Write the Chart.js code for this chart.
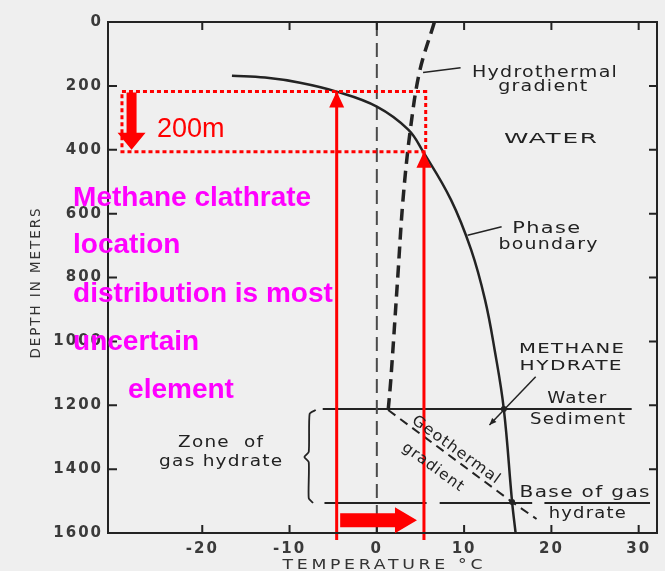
<!DOCTYPE html>
<html>
<head>
<meta charset="utf-8">
<title>Methane hydrate stability</title>
<script src="https://cdn.jsdelivr.net/npm/chart.js@4.4.1/dist/chart.umd.min.js"></script>
<style>
  html, body { margin: 0; padding: 0; background: #efefef; }
  #wrap { width: 665px; height: 571px; }
</style>
</head>
<body>
<div id="wrap"><canvas id="hydrateChart" width="665" height="571"></canvas></div>
<script>
// axis ticks
const tempTicks = [-20, -10, 0, 10, 20, 30];
const depthTicks = [0, 200, 400, 600, 800, 1000, 1200, 1400, 1600];

// curves: temperature (°C) / depth (m)
const phaseTemp  = [-16.6, -12.8, -8.8, -4.6, 0, 3.6, 5.3, 8.5, 10.8, 12.4, 13.5, 14.55, 15.5, 15.9];
const phaseDepth = [168, 174, 190, 218, 265, 337, 406, 557, 713, 870, 1027, 1212, 1503, 1600];
const hydroTemp  = [6.6, 4.9, 3.8, 3.0, 2.4, 1.6, 1.3];
const hydroDepth = [0, 155, 346, 556, 798, 1121, 1215];
const geoTemp  = [1.3, 15.5, 18.3];
const geoDepth = [1215, 1503, 1556];

// horizontal boundaries
const seafloorDepth = 1212;
const seafloorTemp = [-6.2, 29.2];
const baseDepth = 1506;
const baseSegments = [[-6.0, 5.7], [7.2, 17.8], [19.2, 31.3]];

// brace for "Zone of gas hydrate"
const braceTemp  = [-7.0, -7.7, -7.8, -8.3, -7.8, -7.8, -7.3];
const braceDepth = [1215, 1227, 1346, 1362, 1378, 1491, 1506];

// leader lines from the labels
const hydroLeader   = { temp: [5.3, 9.6],   depth: [158, 143] };
const phaseLeader   = { temp: [10.4, 14.3], depth: [668, 641] };
const methaneLeader = { temp: [18.2, 12.9], depth: [1111, 1262] };
const crossTemp  = [14.55, 15.5];
const crossDepth = [1212, 1503];

// red annotation (200 m shift)
const boxTemp  = [-29.2, 5.6];
const boxDepth = [218, 406];
const shiftArrowTemp = -28.1;
const upArrowTemp = [-4.6, 5.4];
const upArrowTop  = [218, 406];
const upArrowBottom = 1622;
const warmArrowTemp = [-4.2, 4.6];
const warmArrowDepth = 1560;

const pts = (xs, ys) => xs.map((x, i) => ({ x, y: ys[i] }));

function lineSet(data, color, width, dash, extra) {
    return Object.assign({
        data,
        showLine: true,
        borderColor: color,
        borderWidth: width,
        borderDash: dash || [],
        pointRadius: 0,
        fill: false,
    }, extra || {});
}

const ink = '#232323';
const red = '#ff0000';

const datasets = [
    // red on top
    lineSet(pts([boxTemp[0], boxTemp[1], boxTemp[1], boxTemp[0], boxTemp[0]],
                [boxDepth[0], boxDepth[0], boxDepth[1], boxDepth[1], boxDepth[0]]),
            red, 3, [4, 3], { order: 0 }),
    lineSet(pts([upArrowTemp[0], upArrowTemp[0]], [upArrowBottom, upArrowTop[0]]), red, 3, [], { order: 0, clip: false }),
    lineSet(pts([upArrowTemp[1], upArrowTemp[1]], [upArrowBottom, upArrowTop[1]]), red, 3, [], { order: 0, clip: false }),

    lineSet(pts(phaseTemp, phaseDepth), ink, 2.5, [], { tension: 0.4, order: 2 }),
    lineSet(pts(hydroTemp, hydroDepth), ink, 3.5, [12, 7], { tension: 0.35, order: 2 }),
    lineSet(pts(geoTemp, geoDepth), ink, 2, [9, 6], { order: 2 }),
    lineSet(pts([0, 0], [0, 1600]), '#4a4a4a', 2, [14, 7], { order: 3 }),
    lineSet(pts(seafloorTemp, [seafloorDepth, seafloorDepth]), ink, 2, [], { order: 3 }),
    ...baseSegments.map((s) => lineSet(pts(s, [baseDepth, baseDepth]), ink, 2, [], { order: 3 })),
    lineSet(pts(braceTemp, braceDepth), ink, 1.8, [], { tension: 0.2, order: 3 }),
    lineSet(pts(hydroLeader.temp, hydroLeader.depth), ink, 1.5, [], { order: 3 }),
    lineSet(pts(phaseLeader.temp, phaseLeader.depth), ink, 1.5, [], { order: 3 }),
    lineSet(pts(methaneLeader.temp, methaneLeader.depth), ink, 1.5, [], { order: 3 }),
    {
        data: pts(crossTemp, crossDepth),
        showLine: false,
        pointRadius: 3,
        pointBackgroundColor: ink,
        pointBorderWidth: 0,
        order: 1,
    },
];

// text labels: [text, temp, depth, width, font]
const plainFont = '15px "DejaVu Sans"';
const capsFont = '14px "DejaVu Sans"';
const labels = [
    ['Hydrothermal', 19.2, 171, 145, plainFont],
    ['gradient', 19.0, 215, 89, plainFont],
    ['WATER', 19.9, 378, 93, capsFont],
    ['Phase', 19.4, 660, 68, plainFont],
    ['boundary', 19.6, 710, 99, plainFont],
    ['METHANE', 22.3, 1036, 105, capsFont],
    ['HYDRATE', 22.2, 1089, 102, capsFont],
    ['Water', 22.9, 1193, 59, plainFont],
    ['Sediment', 23.0, 1259, 95, plainFont],
    ['Zone  of', -17.9, 1331, 85, plainFont],
    ['gas hydrate', -17.9, 1390, 123, plainFont],
    ['Base of gas', 23.8, 1488, 130, plainFont],
    ['hydrate', 24.1, 1553, 77, plainFont],
];
const slantLabels = [
    ['Geothermal', 9.05, 1340, 105],
    ['gradient', 6.4, 1394, 72],
];
const noteLines = [
    ['Methane clathrate', -34.8, 575],
    ['location', -34.8, 723],
    ['distribution is most', -34.8, 876],
    ['uncertain', -34.8, 1027],
    ['element', -28.5, 1177],
];

// draw text stretched to the width it has in the scan
function wideText(ctx, str, cx, y, width, font, color, spacing) {
    ctx.save();
    ctx.font = font;
    ctx.fillStyle = color;
    ctx.textAlign = 'left';
    ctx.letterSpacing = (spacing || 0) + 'px';
    const plain = ctx.measureText(str).width - (spacing || 0);
    ctx.translate(cx - width / 2, y);
    ctx.scale(width / plain, 1);
    ctx.fillText(str, 0, 0);
    ctx.restore();
}

function arrow(ctx, x0, y0, x1, y1, shaft, headW, headL) {
    const ang = Math.atan2(y1 - y0, x1 - x0);
    const len = Math.hypot(x1 - x0, y1 - y0);
    ctx.save();
    ctx.translate(x0, y0);
    ctx.rotate(ang);
    ctx.beginPath();
    ctx.moveTo(0, -shaft / 2);
    ctx.lineTo(len - headL, -shaft / 2);
    ctx.lineTo(len - headL, -headW / 2);
    ctx.lineTo(len, 0);
    ctx.lineTo(len - headL, headW / 2);
    ctx.lineTo(len - headL, shaft / 2);
    ctx.lineTo(0, shaft / 2);
    ctx.closePath();
    ctx.fill();
    ctx.restore();
}

const paperPlugin = {
    id: 'paper',
    beforeDraw(chart) {
        const ctx = chart.ctx;
        ctx.save();
        ctx.fillStyle = '#efefef';
        ctx.fillRect(0, 0, chart.width, chart.height);
        ctx.restore();
        ctx.letterSpacing = '2px';
    },
    beforeDatasetsDraw(chart) {
        chart.ctx.letterSpacing = '0px';
    },
    afterDraw(chart) {
        const ctx = chart.ctx;
        const xs = chart.scales.x, ys = chart.scales.y;
        const a = chart.chartArea;
        ctx.save();
        ctx.letterSpacing = '0px';

        // frame with inward ticks
        ctx.strokeStyle = ink;
        ctx.lineWidth = 2;
        ctx.strokeRect(a.left, a.top, a.right - a.left, a.bottom - a.top);
        ctx.beginPath();
        depthTicks.forEach((d) => {
            const y = ys.getPixelForValue(d);
            ctx.moveTo(a.left, y); ctx.lineTo(a.left + 9, y);
            ctx.moveTo(a.right, y); ctx.lineTo(a.right - 8, y);
        });
        tempTicks.forEach((t) => {
            const x = xs.getPixelForValue(t);
            ctx.moveTo(x, a.bottom); ctx.lineTo(x, a.bottom - 8);
            ctx.moveTo(x, a.top); ctx.lineTo(x, a.top + 8);
        });
        ctx.stroke();

        // axis titles
        wideText(ctx, 'TEMPERATURE °C', (a.left + a.right) / 2, 569, 200, '14px "DejaVu Sans"', '#333', 3);
        ctx.save();
        ctx.translate(40, (a.top + a.bottom) / 2 + 6);
        ctx.rotate(-Math.PI / 2);
        wideText(ctx, 'DEPTH IN METERS', 0, 0, 150, '14px "DejaVu Sans"', '#333', 2);
        ctx.restore();

        // black labels
        labels.forEach(([s, t, d, w, f]) => {
            wideText(ctx, s, xs.getPixelForValue(t), ys.getPixelForValue(d), w, f, '#222', 1);
        });
        slantLabels.forEach(([s, t, d, w]) => {
            ctx.save();
            ctx.translate(xs.getPixelForValue(t), ys.getPixelForValue(d));
            ctx.rotate(36 * Math.PI / 180);
            ctx.textBaseline = 'middle';
            wideText(ctx, s, 0, 0, w, plainFont, '#222', 1);
            ctx.restore();
        });

        // small arrowhead on the methane hydrate leader
        ctx.fillStyle = ink;
        const mx0 = xs.getPixelForValue(methaneLeader.temp[0]), my0 = ys.getPixelForValue(methaneLeader.depth[0]);
        const mx1 = xs.getPixelForValue(methaneLeader.temp[1]), my1 = ys.getPixelForValue(methaneLeader.depth[1]);
        arrow(ctx, mx1 + (mx0 - mx1) * 0.2, my1 + (my0 - my1) * 0.2, mx1, my1, 0, 6, 7);

        // red arrows
        ctx.fillStyle = red;
        const sx = xs.getPixelForValue(shiftArrowTemp);
        arrow(ctx, sx, ys.getPixelForValue(boxDepth[0]) + 1, sx, ys.getPixelForValue(boxDepth[1]) - 2, 10, 28, 17);
        upArrowTemp.forEach((t, i) => {
            const x = xs.getPixelForValue(t);
            const yTop = ys.getPixelForValue(upArrowTop[i]);
            arrow(ctx, x, yTop + 20, x, yTop, 0, 15, 16);
        });
        const wy = ys.getPixelForValue(warmArrowDepth);
        arrow(ctx, xs.getPixelForValue(warmArrowTemp[0]), wy, xs.getPixelForValue(warmArrowTemp[1]), wy, 14, 26, 22);

        ctx.font = '27px "Liberation Sans"';
        ctx.textAlign = 'left';
        ctx.fillText('200m', xs.getPixelForValue(-25.2), ys.getPixelForValue(359));

        // magenta note
        ctx.fillStyle = '#ff00ff';
        ctx.font = 'bold 28px "Liberation Sans"';
        noteLines.forEach(([s, t, d]) => {
            ctx.fillText(s, xs.getPixelForValue(t), ys.getPixelForValue(d));
        });
        ctx.restore();
    },
};

const ctx = document.getElementById('hydrateChart').getContext('2d');
const tickFont = { family: 'DejaVu Sans', size: 15, weight: 'bold' };

new Chart(ctx, {
    type: 'scatter',
    data: { datasets },
    options: {
        responsive: false,
        animation: false,
        layout: { padding: { top: 22, right: 8, left: 0, bottom: 0 } },
        plugins: { legend: { display: false }, tooltip: { enabled: false } },
        scales: {
            x: {
                type: 'linear',
                min: -30.8,
                max: 32.1,
                grid: { display: false, drawTicks: false },
                border: { display: false },
                afterBuildTicks: (s) => { s.ticks = tempTicks.map((v) => ({ value: v })); },
                afterFit: (s) => { s.height = 38; },
                ticks: { font: tickFont, color: '#3a3a3a', padding: 7, maxRotation: 0, callback: (v) => String(v) },
            },
            y: {
                type: 'linear',
                reverse: true,
                min: 0,
                max: 1600,
                grid: { display: false, drawTicks: false },
                border: { display: false },
                afterBuildTicks: (s) => { s.ticks = depthTicks.map((v) => ({ value: v })); },
                afterFit: (s) => { s.width = 108; },
                ticks: { font: tickFont, color: '#3a3a3a', padding: 5, callback: (v) => String(v) },
            },
        },
    },
    plugins: [paperPlugin],
});
</script>
</body>
</html>
